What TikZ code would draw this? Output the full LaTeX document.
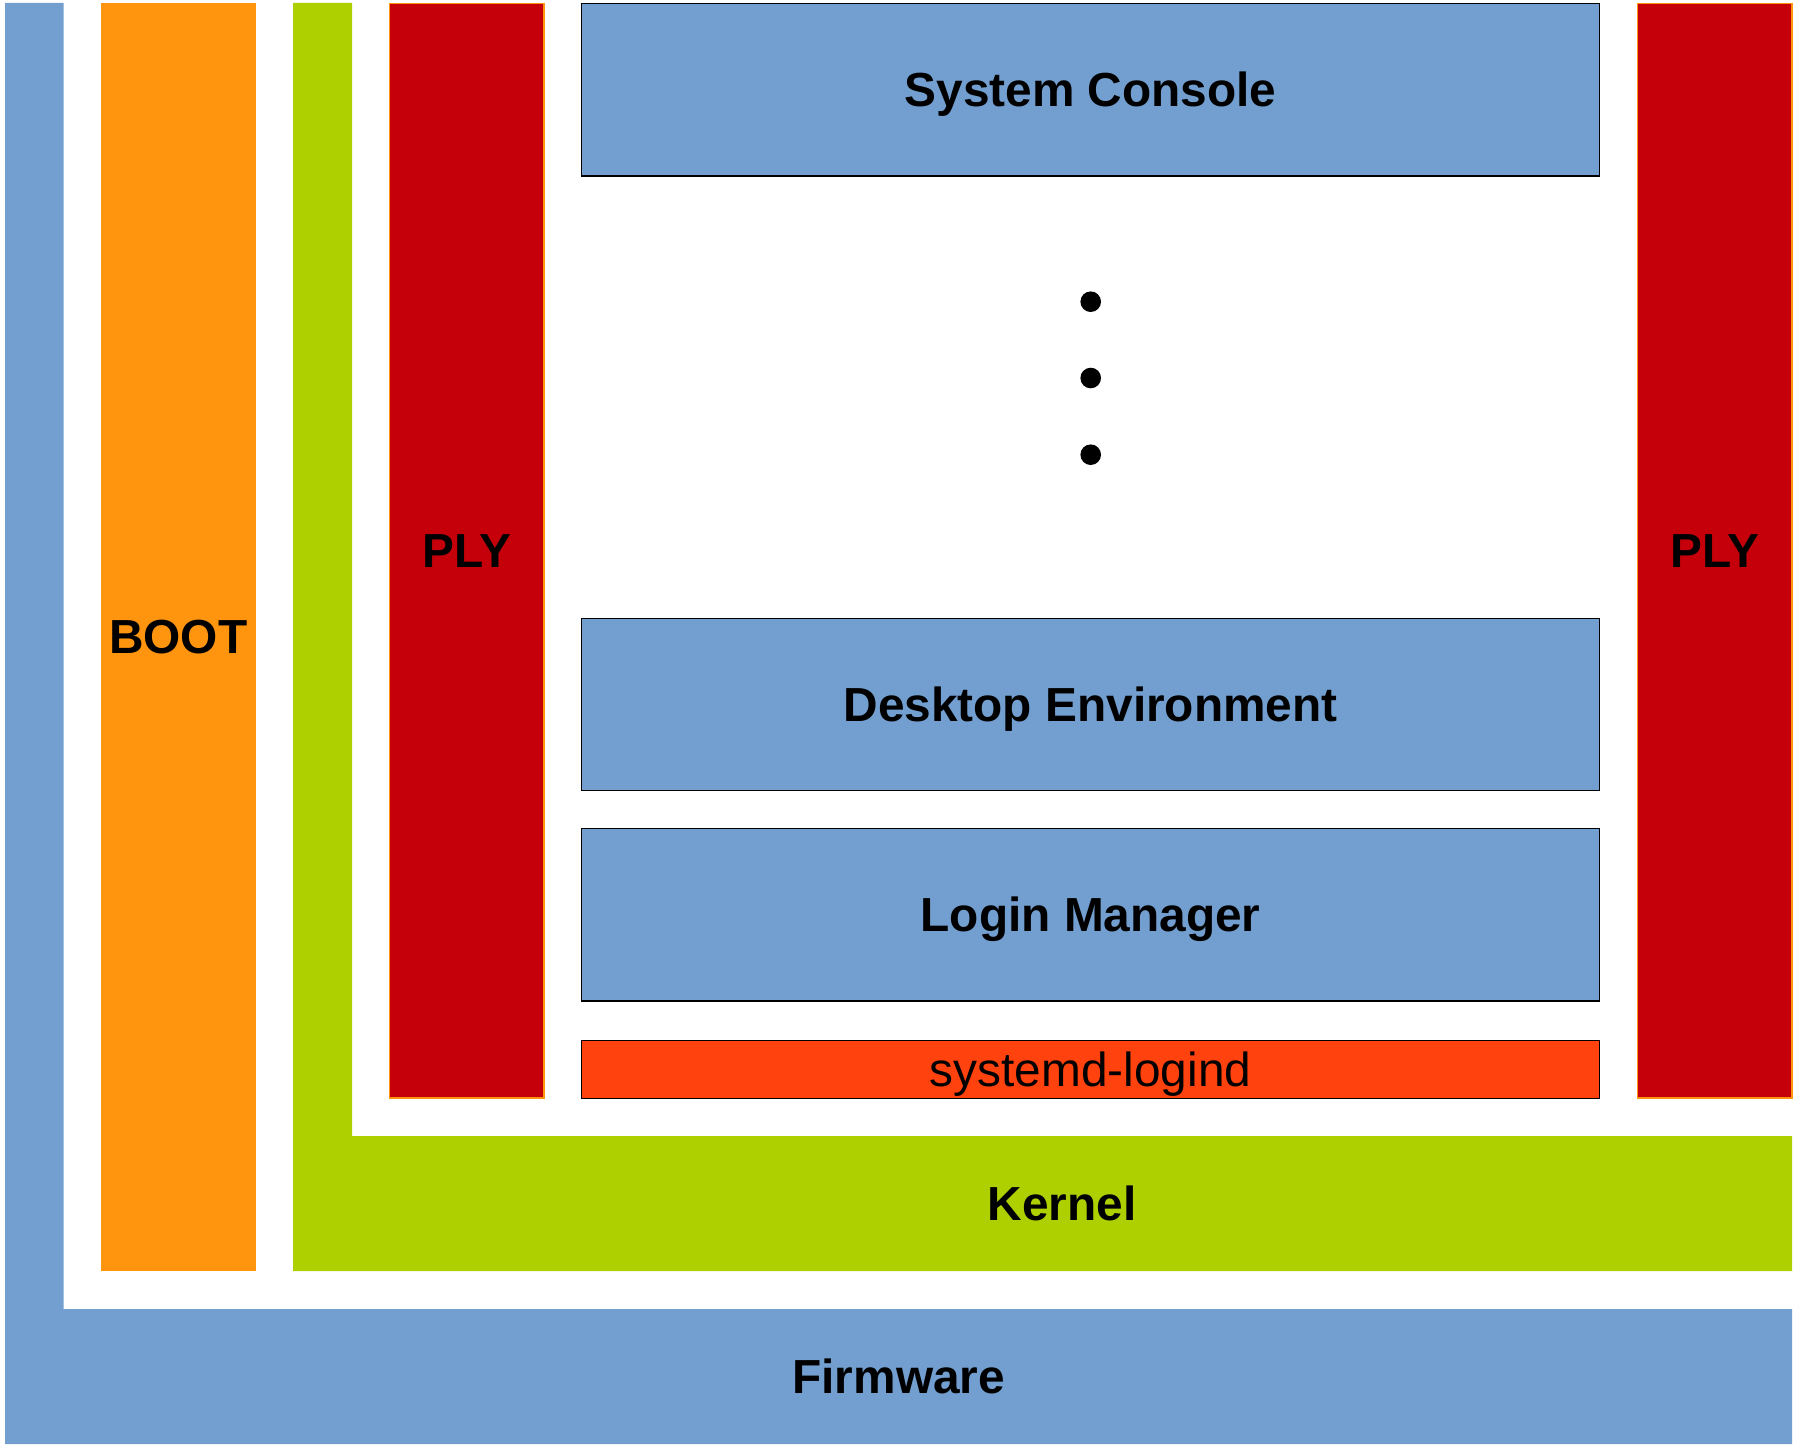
\documentclass[tikz,border=0pt]{standalone}
\usepackage{fontspec}
\setmainfont{Liberation Sans}
\usepackage{tikz}
\definecolor{skyblue}{HTML}{729FCF}
\definecolor{bootorange}{HTML}{FF950E}
\definecolor{kernelgreen}{HTML}{AECF00}
\definecolor{plyred}{HTML}{C5000B}
\definecolor{logindred}{HTML}{FF420E}
\tikzstyle{session}=[rectangle,draw=black,line width=0.4pt,fill=skyblue,minimum width=10.18cm,minimum height=1.723cm,inner sep=0pt,text height=9.75pt,text depth=0pt,font=\fontsize{13.6}{16}\selectfont\bfseries]
\tikzstyle{plybar}=[rectangle,draw=bootorange,line width=0.4pt,fill=plyred,minimum width=1.542cm,minimum height=10.945cm,inner sep=0pt,font=\fontsize{13.6}{16}\selectfont\bfseries]
\tikzstyle{label}=[inner sep=0pt,font=\fontsize{13.6}{16}\selectfont\bfseries]
\tikzstyle{dot}=[circle,fill=black,minimum size=0.206cm,inner sep=0pt]

\begin{document}
\begin{tikzpicture}
\useasboundingbox (0,0) rectangle (18.02,-14.46);
% firmware and kernel
\fill[skyblue] (0.05,-0.03) -- (0.635,-0.03) -- (0.635,-13.09) -- (17.92,-13.09) -- (17.92,-14.44) -- (0.05,-14.44) -- cycle;
\fill[kernelgreen] (2.93,-0.03) -- (3.52,-0.03) -- (3.52,-11.36) -- (17.92,-11.36) -- (17.92,-12.71) -- (2.93,-12.71) -- cycle;
\node[label] at (8.987,-13.765) (firmware) {Firmware};
\node[label] at (10.62,-12.035) (kernel) {Kernel};
% boot loader
\node[rectangle,fill=bootorange,minimum width=1.546cm,minimum height=12.68cm,inner sep=0pt,font=\fontsize{13.6}{16}\selectfont\bfseries] at (1.783,-6.37) (boot) {BOOT};
% plymouth
\node[plybar] at (4.667,-5.5075) (plyl) {PLY};
\node[plybar] at (17.147,-5.5075) (plyr) {PLY};
% sessions
\node[session] at (10.906,-0.8965) (console) {System Console};
\node[dot] at (10.907,-3.017) (dota) {};
\node[dot] at (10.907,-3.78) (dotb) {};
\node[dot] at (10.907,-4.547) (dotc) {};
\node[session] at (10.906,-7.045) (desktop) {Desktop Environment};
\node[session] at (10.906,-9.148) (login) {Login Manager};
\node[session,fill=logindred,minimum height=0.58cm,font=\fontsize{13.6}{16}\selectfont] at (10.906,-10.693) (logind) {systemd-logind};
\end{tikzpicture}
\end{document}
